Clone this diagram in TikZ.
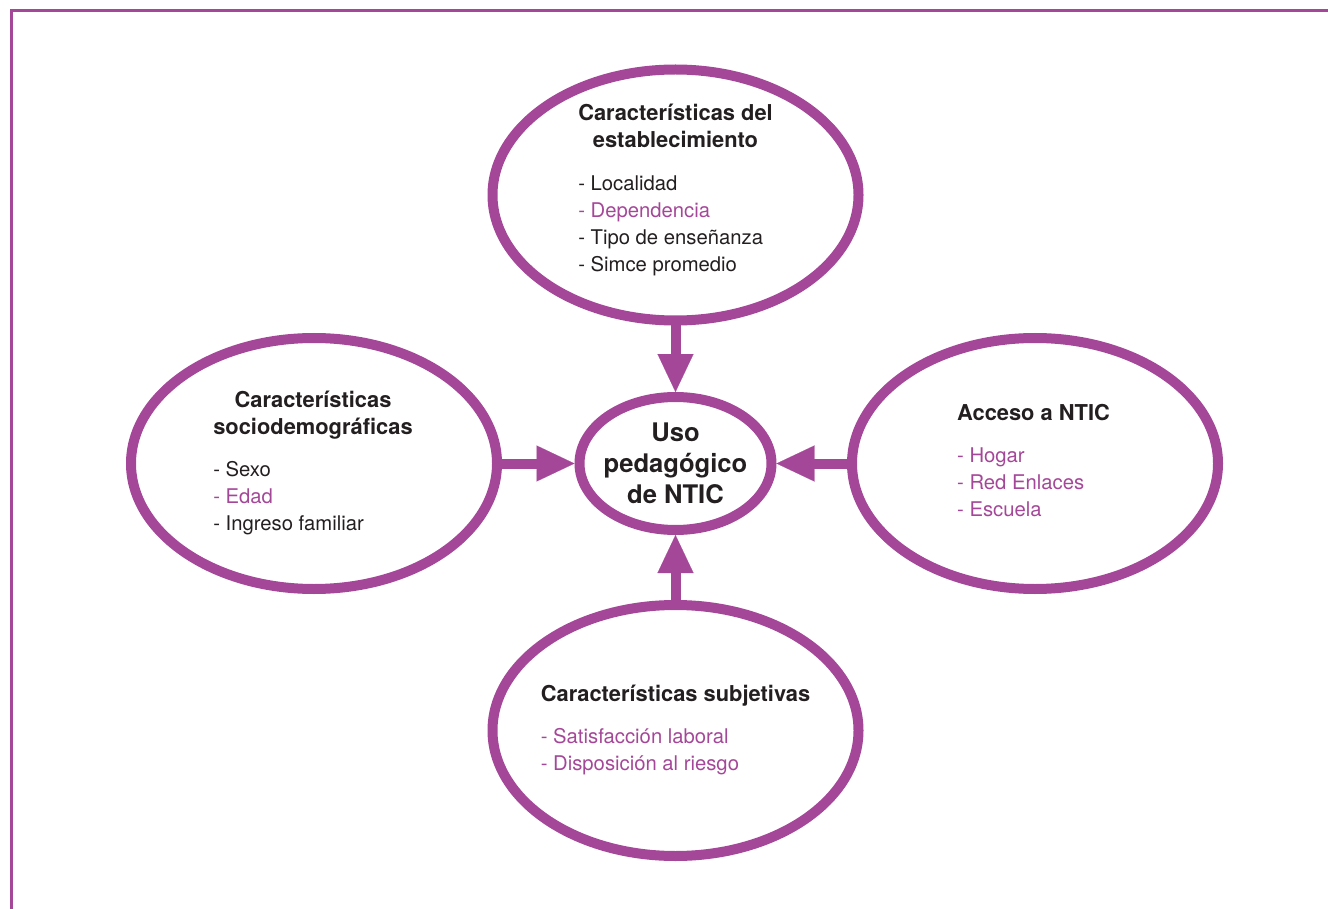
\documentclass[tikz,border=0pt]{standalone}
\usepackage{fontspec}
\setmainfont{TeX Gyre Heros}
\usetikzlibrary{shapes.geometric,arrows.meta}
\definecolor{lila}{RGB}{165,71,152}
\definecolor{tinta}{RGB}{35,31,32}
\newcommand{\cabeza}[1]{\multicolumn{1}{@{}c@{}}{\fontsize{16.4}{20.25}\selectfont\bfseries #1}}
\newcommand{\itemlila}[1]{\textcolor{lila}{- #1}}
\begin{document}
\begin{tikzpicture}[x=0.75pt,y=-0.75pt,
        burbuja/.style={ellipse,draw=lila,line width=7.5pt,minimum width=274.5pt,minimum height=188.25pt,inner sep=0pt},
        texto/.style={anchor=base,inner sep=0pt,text=tinta,font=\fontsize{15.2}{20.25}\selectfont},
        flecha/.style={draw=lila,line width=7.5pt,-{Triangle[length=28.5pt,width=27pt,line width=0.1pt]}}]
    \useasboundingbox (0,0) rectangle (1328,909);
    \draw[lila,line width=2.25pt] (1328,11) -- (11,11) -- (11,909);
    % las cuatro burbujas y el centro
    \node[burbuja] (estab) at (675.5,195) {};
    \node[burbuja] (socio) at (314,463.5) {};
    \node[burbuja] (acceso) at (1035,463.5) {};
    \node[burbuja] (subj) at (675.5,730.5) {};
    \node[burbuja,minimum width=144pt,minimum height=99.75pt] (uso) at (675.5,463.5) {};
    % textos
    \node[texto] (estab-t) at (675.5,121) {\begin{tabular}[t]{@{}l@{}}
        \cabeza{Características del}\\ \cabeza{establecimiento}\\[12pt]
        - Localidad\\ \itemlila{Dependencia}\\ - Tipo de enseñanza\\ - Simce promedio
    \end{tabular}};
    \node[texto] (socio-t) at (313,407) {\begin{tabular}[t]{@{}l@{}}
        \cabeza{Características}\\ \cabeza{sociodemográficas}\\[11.25pt]
        - Sexo\\ \itemlila{Edad}\\ - Ingreso familiar
    \end{tabular}};
    \node[texto] (acceso-t) at (1033.5,420.5) {\begin{tabular}[t]{@{}l@{}}
        \cabeza{Acceso a NTIC}\\[11.25pt]
        \itemlila{Hogar}\\ \itemlila{Red Enlaces}\\ \itemlila{Escuela}
    \end{tabular}};
    \node[texto] (subj-t) at (675.5,701.5) {\begin{tabular}[t]{@{}l@{}}
        \cabeza{Características subjetivas}\\[11.25pt]
        \itemlila{Satisfacción laboral}\\ \itemlila{Disposición al riesgo}
    \end{tabular}};
    \node[texto,font=\fontsize{19.2}{23.25}\selectfont\bfseries] (uso-t) at (675.5,441) {\begin{tabular}[t]{@{}c@{}}
        Uso\\ pedagógico\\ de NTIC
    \end{tabular}};
    % flechas hacia el centro
    \draw[flecha] (estab) -- (uso);
    \draw[flecha] (socio) -- (uso);
    \draw[flecha] (acceso) -- (uso);
    \draw[flecha] (subj) -- (uso);
\end{tikzpicture}
\end{document}
